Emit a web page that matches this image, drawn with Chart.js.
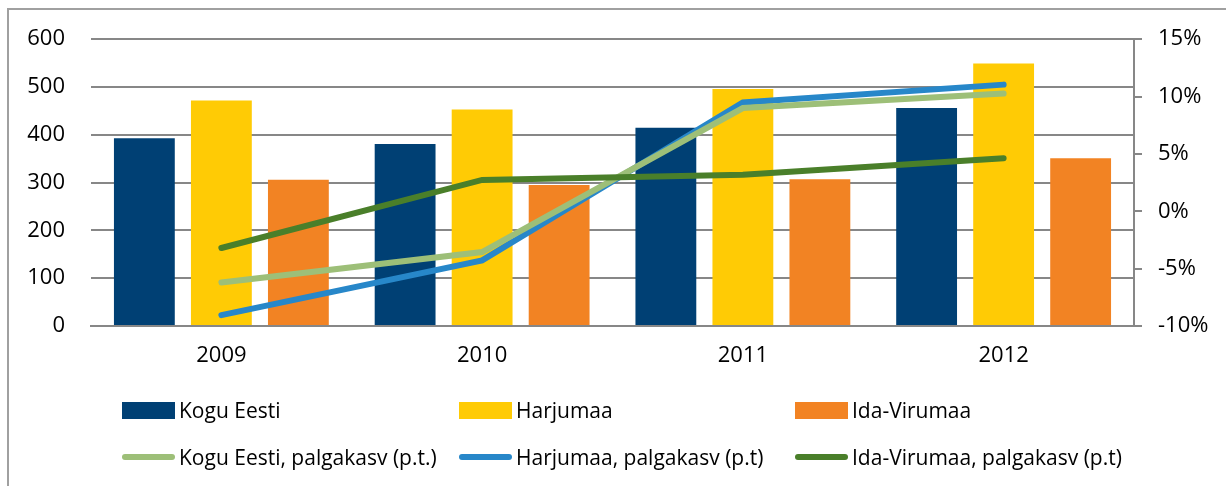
<!DOCTYPE html>
<html>
<head>
<meta charset="utf-8">
<script src="https://cdn.jsdelivr.net/npm/chart.js@4.4.1/dist/chart.umd.min.js"></script>
<style>
  html, body { margin: 0; padding: 0; background: #fff; }
  body { width: 1226px; height: 486px; position: relative; overflow: hidden; font-family: "Open Sans", sans-serif; }
  #frame { position: absolute; left: 7px; top: 8px; width: 1240px; height: 500px; border: 2px solid #a0a0a0; box-sizing: border-box; }
  #wrap { position: absolute; left: 0; top: 0; width: 1226px; height: 486px; }
  #legend { position: absolute; left: 0; top: 0; }
  .item { position: absolute; display: flex; align-items: center; font-size: 21px; color: #000; white-space: nowrap; }
  .sw { width: 53px; margin-right: 4px; }
</style>
</head>
<body>
<div id="frame"></div>
<div id="wrap"><canvas id="grafico" width="1226" height="486"></canvas></div>
<div id="legend"></div>
<script>
const aastad = ["2009", "2010", "2011", "2012"];

const koguEesti = [393, 381, 415, 456];
const harjumaa = [472, 453, 496, 549];
const idaVirumaa = [306, 295, 307, 351];

const koguEestiKasv = [-6.2, -3.55, 9.0, 10.26];
const harjumaaKasv = [-9.05, -4.28, 9.48, 11.04];
const idaVirumaaKasv = [-3.2, 2.73, 3.19, 4.63];

const palgaTicks = [0, 100, 200, 300, 400, 500, 600];
const kasvTicks = [-10, -5, 0, 5, 10, 15];

const halli = "#878787";
const kiri = { family: "'Open Sans', sans-serif", size: 22 };

const grafico = new Chart(document.getElementById("grafico"), {
  type: "bar",
  data: {
    labels: aastad,
    datasets: [
      // joonte seeriad (parem telg)
      {
        type: "line",
        label: "Kogu Eesti, palgakasv (p.t.)",
        data: koguEestiKasv,
        yAxisID: "y1",
        borderColor: "#9dbf78",
        backgroundColor: "#9dbf78",
        borderWidth: 6,
        pointRadius: 0,
        borderCapStyle: "round",
        order: 1,
      },
      {
        type: "line",
        label: "Harjumaa, palgakasv (p.t)",
        data: harjumaaKasv,
        yAxisID: "y1",
        borderColor: "#2787c9",
        backgroundColor: "#2787c9",
        borderWidth: 6,
        pointRadius: 0,
        borderCapStyle: "round",
        order: 2,
      },
      {
        type: "line",
        label: "Ida-Virumaa, palgakasv (p.t)",
        data: idaVirumaaKasv,
        yAxisID: "y1",
        borderColor: "#4a7f2a",
        backgroundColor: "#4a7f2a",
        borderWidth: 6,
        pointRadius: 0,
        borderCapStyle: "round",
        order: 0,
      },
      // tulpade seeriad
      {
        label: "Kogu Eesti",
        data: koguEesti,
        yAxisID: "y",
        backgroundColor: "#004074",
        barPercentage: 0.79,
        categoryPercentage: 0.886,
        order: 5,
      },
      {
        label: "Harjumaa",
        data: harjumaa,
        yAxisID: "y",
        backgroundColor: "#ffcb05",
        barPercentage: 0.79,
        categoryPercentage: 0.886,
        order: 5,
      },
      {
        label: "Ida-Virumaa",
        data: idaVirumaa,
        yAxisID: "y",
        backgroundColor: "#f28323",
        barPercentage: 0.79,
        categoryPercentage: 0.886,
        order: 5,
      },
    ],
  },
  options: {
    responsive: false,
    animation: false,
    layout: { padding: { left: 0, right: 0, top: 37, bottom: 110 } },
    plugins: {
      legend: { display: false },
      tooltip: { enabled: false },
    },
    scales: {
      x: {
        grid: { display: false, drawTicks: false },
        border: { display: true, color: halli, width: 2 },
        ticks: { color: "#000", font: kiri, padding: 17 },
        afterFit: (scale) => { scale.height = 50; },
      },
      y: {
        position: "left",
        min: 0,
        max: 600,
        afterBuildTicks: (scale) => { scale.ticks = palgaTicks.map((v) => ({ value: v })); },
        grid: { color: halli, lineWidth: 2, drawTicks: false },
        border: { display: false },
        ticks: { color: "#000", font: kiri, padding: 26 },
        afterFit: (scale) => { scale.width = 91; },
      },
      y1: {
        position: "right",
        min: -10,
        max: 15,
        afterBuildTicks: (scale) => { scale.ticks = kasvTicks.map((v) => ({ value: v })); },
        grid: { drawOnChartArea: false, drawTicks: true, tickLength: 8, color: halli, lineWidth: 2 },
        border: { display: true, color: halli, width: 2 },
        ticks: {
          color: "#000",
          font: kiri,
          padding: 16,
          callback: (v) => v + "%",
        },
        afterFit: (scale) => { scale.width = 92; },
      },
    },
  },
});

// legend kolmes veerus
const legend = document.getElementById("legend");
const veerud = [122, 459, 795];
const read = [410, 457];
const jarjestus = [3, 4, 5, 0, 1, 2];
jarjestus.forEach((idx, i) => {
  const ds = grafico.data.datasets[idx];
  const el = document.createElement("div");
  el.className = "item";
  el.style.left = veerud[i % 3] + "px";
  el.style.top = read[Math.floor(i / 3)] - 15 + "px";
  el.style.height = "30px";
  const sw = document.createElement("span");
  sw.className = "sw";
  if (ds.type === "line") {
    sw.style.height = "6px";
    sw.style.borderRadius = "3px";
  } else {
    sw.style.height = "17px";
  }
  sw.style.background = ds.backgroundColor;
  const txt = document.createElement("span");
  txt.textContent = ds.label;
  el.appendChild(sw);
  el.appendChild(txt);
  legend.appendChild(el);
});
</script>
</body>
</html>
